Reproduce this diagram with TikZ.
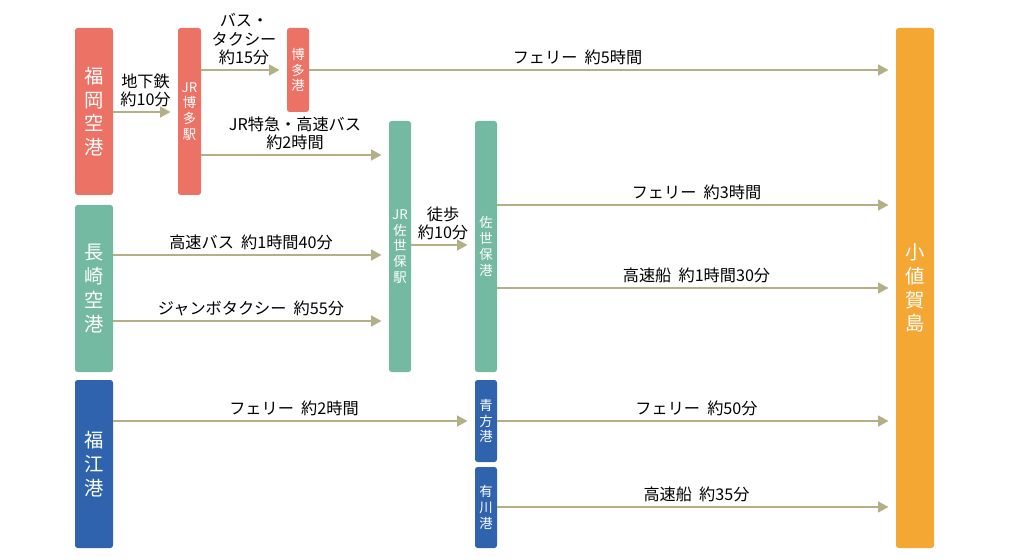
\documentclass[tikz,border=0pt]{standalone}
\usepackage{fontspec}
\setmainfont{Noto Sans CJK JP}
\usetikzlibrary{arrows.meta}
\definecolor{fukred}{HTML}{EC7266}
\definecolor{sasgreen}{HTML}{74B9A1}
\definecolor{gotblue}{HTML}{2F63AD}
\definecolor{ojiorange}{HTML}{F5A733}
\definecolor{olive}{HTML}{B3AF87}
\begin{document}
\begin{tikzpicture}[x=0.02cm,y=-0.02cm]
\tikzstyle{port}=[rounded corners=1.5pt,inner sep=0pt,text=white,align=center,font=\fontsize{7.6}{9}\selectfont]
\tikzstyle{hub}=[port,font=\fontsize{11}{13.5}\selectfont]
\tikzstyle{leg}=[draw=olive,line width=1.6pt,-{Triangle[length=6pt,width=6pt]},shorten >=4pt]
\tikzstyle{time}=[font=\fontsize{9.2}{10.5}\selectfont,align=center,anchor=south,inner sep=2pt]

\useasboundingbox (0,0) rectangle (1020,560);

% origin boxes
\node (fukA) [hub,fill=fukred,minimum width=38*0.02cm,minimum height=167*0.02cm] at (94,111.5) {福\\岡\\空\\港};
\node (nagA) [hub,fill=sasgreen,minimum width=38*0.02cm,minimum height=167*0.02cm] at (94,288.5) {長\\崎\\空\\港};
\node (fukP) [hub,fill=gotblue,minimum width=38*0.02cm,minimum height=168*0.02cm] at (94,464) {福\\江\\港};
\node (oji) [hub,fill=ojiorange,minimum width=38*0.02cm,minimum height=520*0.02cm] at (915,288) {小\\値\\賀\\島};

% transfer points
\node (hakS) [port,fill=fukred,minimum width=23*0.02cm,minimum height=167*0.02cm] at (189.5,111.5) {JR\\博\\多\\駅};
\node (hakP) [port,fill=fukred,minimum width=22*0.02cm,minimum height=84*0.02cm] at (298,70) {博\\多\\港};
\node (sasS) [port,fill=sasgreen,minimum width=22*0.02cm,minimum height=251*0.02cm] at (400,246.5) {JR\\佐\\世\\保\\駅};
\node (sasP) [port,fill=sasgreen,minimum width=22*0.02cm,minimum height=251*0.02cm] at (486,246.5) {佐\\世\\保\\港};
\node (aoP) [port,fill=gotblue,minimum width=22*0.02cm,minimum height=82*0.02cm] at (486,421) {青\\方\\港};
\node (ariP) [port,fill=gotblue,minimum width=22*0.02cm,minimum height=81*0.02cm] at (486,507.5) {有\\川\\港};

% routes
\draw [leg] (fukA.east |- 0,112) -- node[time] {地下鉄\\約10分} (hakS.west |- 0,112);
\draw [leg] (hakS.east |- 0,70) -- node[time] {バス・\\タクシー\\約15分} (hakP.west |- 0,70);
\draw [leg] (hakP.east |- 0,70) -- node[time,xshift=-0.5cm] {フェリー\ \ 約5時間} (oji.west |- 0,70);
\draw [leg] (hakS.east |- 0,155) -- node[time] {JR特急・高速バス\\約2時間} (sasS.west |- 0,155);
\draw [leg] (nagA.east |- 0,255) -- node[time] {高速バス\ \ 約1時間40分} (sasS.west |- 0,255);
\draw [leg] (nagA.east |- 0,321) -- node[time] {ジャンボタクシー\ \ 約55分} (sasS.west |- 0,321);
\draw [leg] (sasS.east |- 0,245) -- node[time] {徒歩\\約10分} (sasP.west |- 0,245);
\draw [leg] (sasP.east |- 0,205) -- node[time] {フェリー\ \ 約3時間} (oji.west |- 0,205);
\draw [leg] (sasP.east |- 0,288) -- node[time] {高速船\ \ 約1時間30分} (oji.west |- 0,288);
\draw [leg] (fukP.east |- 0,421) -- node[time] {フェリー\ \ 約2時間} (aoP.west |- 0,421);
\draw [leg] (aoP.east |- 0,421) -- node[time] {フェリー\ \ 約50分} (oji.west |- 0,421);
\draw [leg] (ariP.east |- 0,507) -- node[time] {高速船\ \ 約35分} (oji.west |- 0,507);
\end{tikzpicture}
\end{document}
